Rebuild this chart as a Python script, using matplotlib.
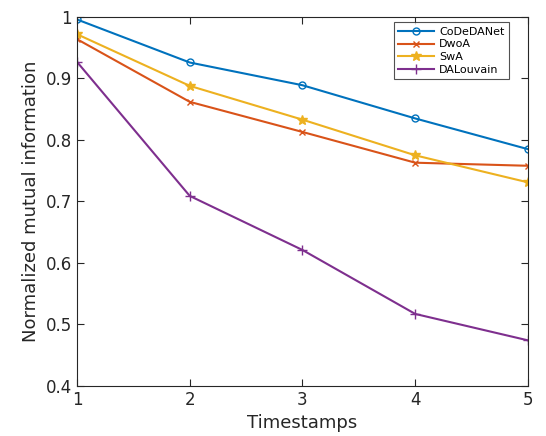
import matplotlib.pyplot as plt

# Timestamps
timestamps = [1, 2, 3, 4, 5]

# NMI per method
codedanet = [0.996, 0.926, 0.889, 0.835, 0.785]
dwoa = [0.964, 0.862, 0.813, 0.763, 0.758]
swa = [0.972, 0.888, 0.833, 0.775, 0.731]
dalouvain = [0.927, 0.709, 0.621, 0.517, 0.474]

fig = plt.figure(figsize=(5.46, 4.36), dpi=100)
ax = fig.add_axes([0.141, 0.115, 0.826, 0.846])

ax.plot(timestamps, codedanet, color='#0072BD', marker='o', mfc='none', ms=5, lw=1.5, label='CoDeDANet')
ax.plot(timestamps, dwoa, color='#D95319', marker='x', ms=4.5, lw=1.5, label='DwoA')
ax.plot(timestamps, swa, color='#EDB120', marker='*', ms=7, lw=1.5, label='SwA')
ax.plot(timestamps, dalouvain, color='#7E2F8E', marker='+', ms=7, lw=1.5, label='DALouvain')

ax.set_xlim(1, 5)
ax.set_ylim(0.4, 1)
ax.set_xticks([1, 2, 3, 4, 5])
ax.set_yticks([0.4, 0.5, 0.6, 0.7, 0.8, 0.9, 1])
ax.set_yticklabels(['0.4', '0.5', '0.6', '0.7', '0.8', '0.9', '1'])
ax.tick_params(direction='in', top=True, right=True, labelsize=12, colors='#262626', length=5)
for s in ax.spines.values():
    s.set_color('#262626')
    s.set_linewidth(0.8)

ax.set_xlabel('Timestamps', fontsize=13, color='#262626')
ax.set_ylabel('Normalized mutual information', fontsize=13, color='#262626')

leg = ax.legend(loc='upper right', bbox_to_anchor=(0.958, 0.986), fontsize=8, fancybox=False,
                edgecolor='#262626', borderaxespad=0, handlelength=3.2, labelspacing=0.25,
                borderpad=0.4, handletextpad=0.5)
leg.get_frame().set_linewidth(0.8)

fig.savefig('out.png', dpi=100)
